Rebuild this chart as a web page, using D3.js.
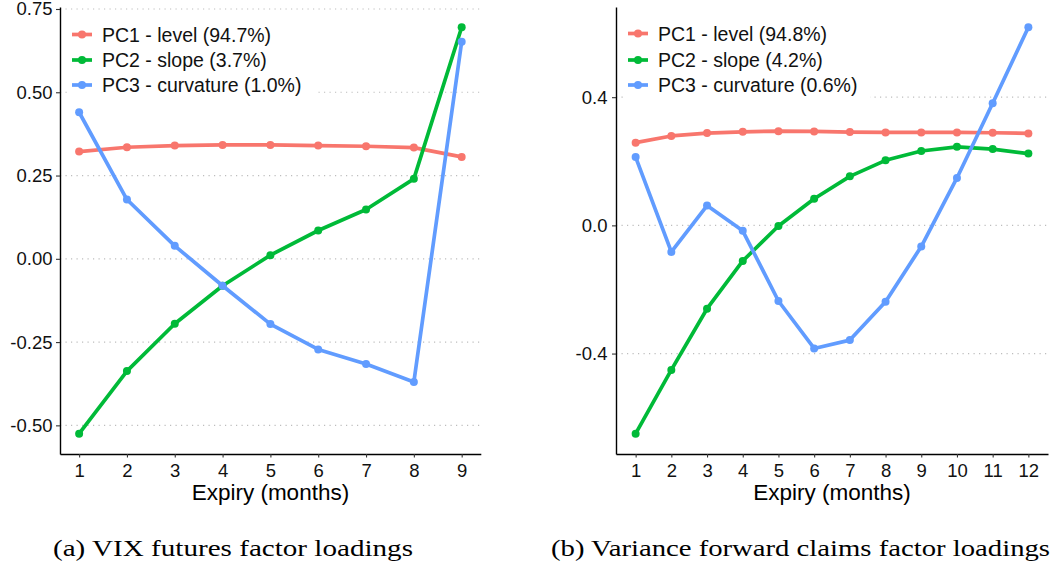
<!DOCTYPE html>
<html>
<head>
<meta charset="utf-8">
<script src="https://cdn.jsdelivr.net/npm/d3@7"></script>
<style>
  html, body { margin: 0; padding: 0; background: #ffffff; }
  svg { display: block; }
  text { font-family: "Liberation Sans", Arial, Helvetica, sans-serif; }
</style>
</head>
<body>
<svg id="chart" width="1052" height="574"></svg>
<script>
// ---------------- data ----------------
const vixExpiry = [1, 2, 3, 4, 5, 6, 7, 8, 9];
const vixPC1 = [0.322, 0.335, 0.340, 0.342, 0.342, 0.340, 0.338, 0.334, 0.306];
const vixPC2 = [-0.525, -0.337, -0.195, -0.081, 0.011, 0.085, 0.148, 0.240, 0.695];
const vixPC3 = [0.440, 0.178, 0.039, -0.081, -0.196, -0.272, -0.316, -0.370, 0.652];
const vixLabels = ["PC1 - level (94.7%)", "PC2 - slope (3.7%)", "PC3 - curvature (1.0%)"];
const vixYTicks = [-0.50, -0.25, 0.00, 0.25, 0.50, 0.75];

const varExpiry = [1, 2, 3, 4, 5, 6, 7, 8, 9, 10, 11, 12];
const varPC1 = [0.258, 0.279, 0.288, 0.292, 0.294, 0.293, 0.291, 0.290, 0.290, 0.290, 0.289, 0.287];
const varPC2 = [-0.650, -0.451, -0.260, -0.111, -0.002, 0.083, 0.153, 0.203, 0.232, 0.245, 0.238, 0.224];
const varPC3 = [0.213, -0.083, 0.062, -0.017, -0.236, -0.384, -0.358, -0.238, -0.066, 0.148, 0.381, 0.618];
const varLabels = ["PC1 - level (94.8%)", "PC2 - slope (4.2%)", "PC3 - curvature (0.6%)"];
const varYTicks = [-0.4, 0.0, 0.4];

const xTitle = "Expiry (months)";
const captions = ["(a) VIX futures factor loadings", "(b) Variance forward claims factor loadings"];
const seriesColors = ["#F8766D", "#00BA38", "#619CFF"];

// ---------------- drawing ----------------
const svg = d3.select("#chart");

function panel(opts) {
  const { expiry, series, labels, yTicks, decimals, left, right, top, bottom,
          tickPad, legendX, legendRowsY, legendBoxRight, caption, captionX, captionW } = opts;
  const g = svg.append("g");

  const xmin = d3.min(expiry), xmax = d3.max(expiry);
  const xe = (xmax - xmin) * 0.05;
  const x = d3.scaleLinear().domain([xmin - xe, xmax + xe]).range([left, right]);

  const all = series.flat();
  const ymin = d3.min(all), ymax = d3.max(all);
  const ye = (ymax - ymin) * 0.05;
  const y = d3.scaleLinear().domain([ymin - ye, ymax + ye]).range([bottom, top]);

  // gridlines
  g.append("g").selectAll("line").data(yTicks).join("line")
    .attr("x1", left).attr("x2", right)
    .attr("y1", d => y(d)).attr("y2", d => y(d))
    .attr("stroke", "#bdbdbd").attr("stroke-width", 1.2)
    .attr("stroke-dasharray", "1.2,4.3");

  // series
  const line = d3.line().x((d, i) => x(expiry[i])).y(d => y(d));
  series.forEach((s, k) => {
    g.append("path").datum(s)
      .attr("d", line).attr("fill", "none")
      .attr("stroke", seriesColors[k]).attr("stroke-width", 3.7)
      .attr("stroke-linejoin", "round");
    g.append("g").selectAll("circle").data(s).join("circle")
      .attr("cx", (d, i) => x(expiry[i])).attr("cy", d => y(d))
      .attr("r", 4).attr("fill", seriesColors[k]);
  });

  // axes
  const ya = g.append("g").attr("transform", `translate(${left},0)`)
    .call(d3.axisLeft(y).tickValues(yTicks).tickSize(4).tickSizeOuter(0)
      .tickPadding(tickPad).tickFormat(d => d.toFixed(decimals)));
  const xa = g.append("g").attr("transform", `translate(0,${bottom})`)
    .call(d3.axisBottom(x).tickValues(expiry).tickSize(3.5).tickSizeOuter(0)
      .tickPadding(6.5).tickFormat(d => String(d)));
  [ya, xa].forEach(a => {
    a.select(".domain").attr("stroke", "#000").attr("stroke-width", 1.4);
    a.selectAll(".tick line").attr("stroke", "#333").attr("stroke-width", 1.1);
    a.selectAll(".tick text").attr("fill", "#111")
      .style("font-size", "18.5px").style("font-family", '"Liberation Sans", Arial, sans-serif');
  });

  // axis title
  g.append("text").attr("x", (left + right) / 2).attr("y", 500)
    .attr("text-anchor", "middle").attr("fill", "#000")
    .style("font-size", "22.5px").text(xTitle);

  // legend
  g.append("rect").attr("x", legendX - 5).attr("y", legendRowsY[0] - 14)
    .attr("width", legendBoxRight - legendX + 5).attr("height", legendRowsY[2] - legendRowsY[0] + 28)
    .attr("fill", "#fff");
  labels.forEach((lab, k) => {
    const ly = legendRowsY[k];
    g.append("line").attr("x1", legendX).attr("x2", legendX + 20)
      .attr("y1", ly).attr("y2", ly)
      .attr("stroke", seriesColors[k]).attr("stroke-width", 3.7);
    g.append("circle").attr("cx", legendX + 10).attr("cy", ly).attr("r", 4)
      .attr("fill", seriesColors[k]);
    g.append("text").attr("x", legendX + 30).attr("y", ly)
      .attr("dy", "0.36em").attr("fill", "#111")
      .style("font-size", "19.5px").text(lab);
  });

  // caption
  g.append("text").attr("x", captionX).attr("y", 556)
    .attr("fill", "#000")
    .attr("textLength", captionW).attr("lengthAdjust", "spacingAndGlyphs")
    .style("font-family", '"Liberation Serif", "Times New Roman", serif')
    .style("font-size", "22.5px").text(caption);
}

panel({
  expiry: vixExpiry, series: [vixPC1, vixPC2, vixPC3], labels: vixLabels,
  yTicks: vixYTicks, decimals: 2, left: 60, right: 480.8, top: 7, bottom: 454,
  tickPad: 3.5, legendX: 72, legendRowsY: [34.5, 60, 85], legendBoxRight: 315,
  caption: captions[0], captionX: 53, captionW: 360
});

panel({
  expiry: varExpiry, series: [varPC1, varPC2, varPC3], labels: varLabels,
  yTicks: varYTicks, decimals: 1, left: 616, right: 1048, top: 7, bottom: 454,
  tickPad: 4.5, legendX: 628, legendRowsY: [33.5, 60, 85], legendBoxRight: 870,
  caption: captions[1], captionX: 551, captionW: 499
});
</script>
</body>
</html>
